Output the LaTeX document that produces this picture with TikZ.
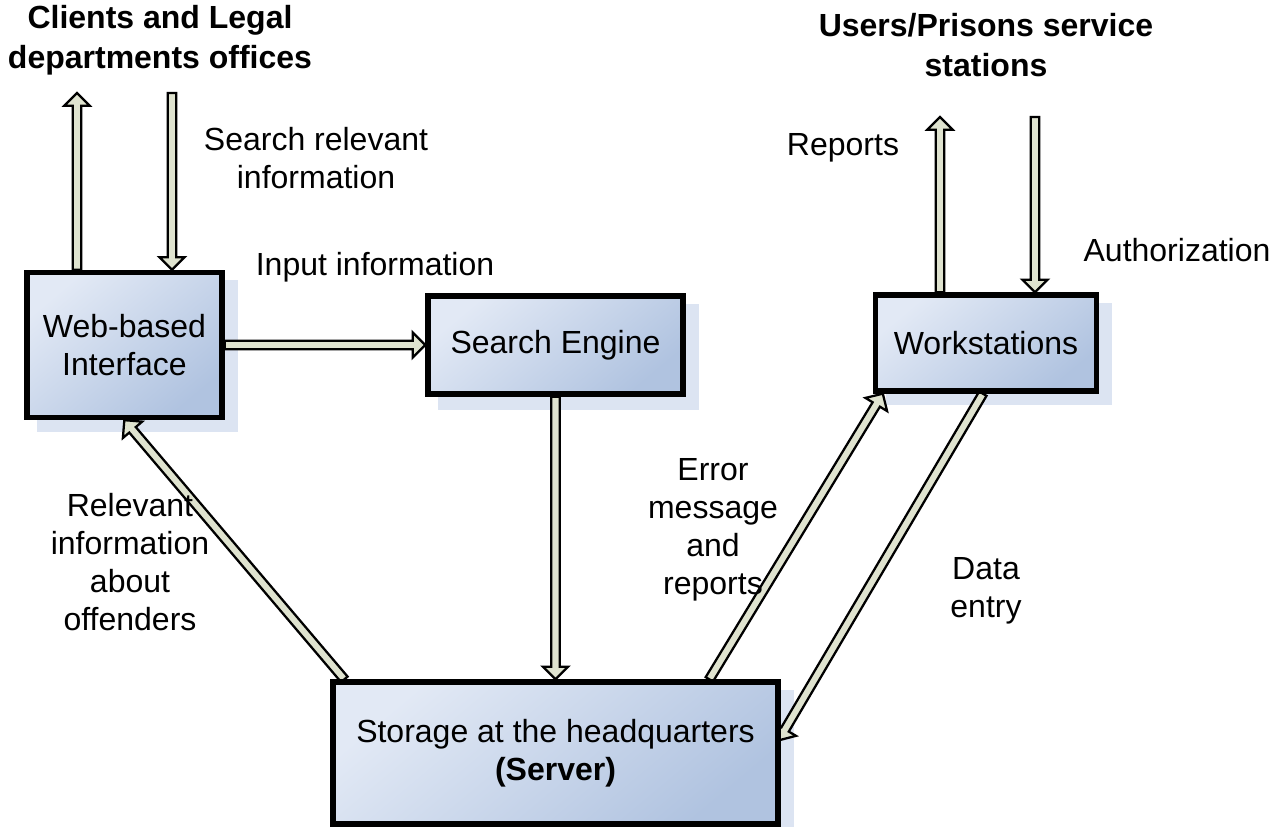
\documentclass[tikz,border=0pt]{standalone}
\usepackage{fontspec}
\setmainfont{Liberation Sans}
\usetikzlibrary{calc,shadings}
\definecolor{arrowfill}{HTML}{DFE3CF}
\definecolor{boxlight}{HTML}{E2E9F5}
\definecolor{boxdark}{HTML}{B0C3E0}
\definecolor{shadowcol}{HTML}{DCE4F2}
\pgfdeclarelayer{background}
\pgfsetlayers{background,main}
\newcommand\shaftw{3.2pt}
\newcommand\headw{9.5pt}
\newcommand\headlen{9.5pt}
\newcommand\fatarrow[2]{%
  \coordinate (fah) at ($(#2)!\headlen!(#1)$);
  \draw[fatarrowstyle] ($(#1)!\shaftw!90:(#2)$) -- ($(fah)!\shaftw!-90:(#1)$) -- ($(fah)!\headw!-90:(#1)$) -- (#2) -- ($(fah)!\headw!90:(#1)$) -- ($(fah)!\shaftw!90:(#1)$) -- ($(#1)!\shaftw!-90:(#2)$) -- cycle;}
\tikzset{
  fatarrowstyle/.style={draw=black, fill=arrowfill, line width=1.7pt, line join=miter},
  procbox/.style={draw=black, line width=4pt, top color=boxlight, bottom color=boxdark, shading angle=40, align=center, inner sep=0pt, font=\fontsize{24}{28.5}\selectfont},
  lbl/.style={align=center, font=\fontsize{24}{28.5}\selectfont, inner sep=0pt},
  ttl/.style={align=center, font=\fontsize{24}{30}\selectfont\bfseries, inner sep=0pt},
}
\begin{document}
\begin{tikzpicture}[x=0.75pt,y=-0.75pt]
\useasboundingbox (0,0) rectangle (1288,827);
% boxes
\node[procbox, minimum width=195*0.75pt, minimum height=145*0.75pt] (web) at (124.5,345) {Web-based\\Interface};
\node[procbox, minimum width=255*0.75pt, minimum height=98*0.75pt] (search) at (555.5,345) {Search Engine};
\node[procbox, minimum width=221*0.75pt, minimum height=96*0.75pt] (work) at (986,343) {Workstations};
\node[procbox, minimum width=445*0.75pt, minimum height=142*0.75pt] (store) at (555.5,753) {Storage at the headquarters\\\textbf{(Server)}};
% arrow end points
\coordinate (t1) at (77,93);
\coordinate (s1) at (t1 |- web.north);
\coordinate (s2) at (172,93);
\coordinate (t2) at (s2 |- web.north);
\coordinate (t5) at (940,117);
\coordinate (s5) at (t5 |- work.north);
\coordinate (s6) at (1035,117);
\coordinate (t6) at (s6 |- work.north);
\coordinate (s3) at ($(store.north west)+(14*0.75pt,0)$);
\coordinate (t3) at ($(web.south west)+(100*0.75pt,0)$);
\coordinate (s4) at ($(store.north west)+(379*0.75pt,0)$);
\coordinate (t4) at ($(work.south west)+(10*0.75pt,0)$);
\coordinate (s7) at ($(work.south west)+(110*0.75pt,0)$);
\coordinate (t7) at ($(store.north east)+(-2*0.75pt,-61*0.75pt)$);
\begin{pgfonlayer}{background}
% shadows
\fill[shadowcol] ($(web.north west)+(13*0.75pt,-10*0.75pt)$) rectangle ($(web.south east)+(13*0.75pt,-12*0.75pt)$);
\fill[shadowcol] ($(search.north west)+(13*0.75pt,-11*0.75pt)$) rectangle ($(search.south east)+(13*0.75pt,-13*0.75pt)$);
\fill[shadowcol] ($(work.north west)+(13*0.75pt,-11*0.75pt)$) rectangle ($(work.south east)+(13*0.75pt,-11*0.75pt)$);
\fill[shadowcol] ($(store.north west)+(13*0.75pt,-11*0.75pt)$) rectangle ($(store.south east)+(13*0.75pt,-11*0.75pt)$);
% arrows
\fatarrow{s1}{t1}
\fatarrow{s2}{t2}
\fatarrow{web.east}{search.west}
\fatarrow{search.south}{store.north}
\fatarrow{s3}{t3}
\fatarrow{s4}{t4}
\fatarrow{s7}{t7}
\fatarrow{s5}{t5}
\fatarrow{s6}{t6}
\end{pgfonlayer}
% labels
\node[ttl] (title1) at (160,40) {Clients and Legal\\departments offices};
\node[ttl] (title2) at (986,45) {Users/Prisons service\\stations};
\node[lbl] (l1) at (316,158) {Search relevant\\information};
\node[lbl] (l2) at (375,267) {Input information};
\node[lbl] (l3) at (843,148) {Reports};
\node[lbl] (l4) at (1177,250) {Authorization};
\node[lbl] (l5) at (713,530) {Error\\message\\and\\reports};
\node[lbl] (l6) at (130,562) {Relevant\\information\\about\\offenders};
\node[lbl] (l7) at (986,591) {Data\\entry};
\end{tikzpicture}
\end{document}
